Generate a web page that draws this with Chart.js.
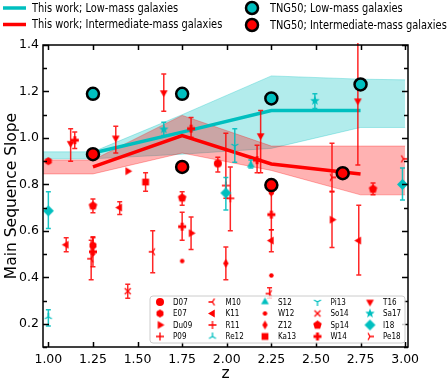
<!DOCTYPE html>
<html>
<head>
<meta charset="utf-8">
<script src="https://cdn.jsdelivr.net/npm/chart.js@4.4.1/dist/chart.umd.min.js"></script>
<style>
html, body { margin: 0; padding: 0; background: #fff; }
</style>
</head>
<body>
<canvas id="chart" width="447" height="382"></canvas>
<script>
// axis ticks
var xTicks = [1.0, 1.25, 1.5, 1.75, 2.0, 2.25, 2.5, 2.75, 3.0];
var yTicks = [0.2, 0.4, 0.6, 0.8, 1.0, 1.2, 1.4];
var yMinor = [0.1, 0.3, 0.5, 0.7, 0.9, 1.1, 1.3];

// this work: median slope per redshift bin
var binZ = [1.25, 1.75, 2.25, 2.75];
var lowMassSlope = [0.935, 1.025, 1.118, 1.118];
var intMassSlope = [0.875, 1.01, 0.888, 0.845];

// this work: shaded ranges
var bandZ = [0.95, 1.25, 1.75, 2.25, 2.75, 3.0];
var lowLo = [0.91, 0.91, 0.93, 0.955, 1.045, 1.045];
var lowHi = [0.94, 0.94, 1.10, 1.267, 1.253, 1.25];
var intLo = [0.845, 0.845, 0.935, 0.86, 0.755, 0.755];
var intHi = [0.905, 0.905, 1.097, 0.965, 0.965, 0.965];

// TNG50
var tngLowZ = [1.25, 1.75, 2.25, 2.75];
var tngLow = [1.19, 1.19, 1.17, 1.23];
var tngIntZ = [1.25, 1.75, 2.25, 2.65];
var tngInt = [0.93, 0.875, 0.797, 0.848];

// literature: [z, slope, errLow, errHigh]
var E07 = [[1.0, 0.90, null, null], [1.25, 0.537, 0.50, 0.575]];
var D07 = [[1.95, 0.89, 0.853, 0.917]];
var Du09 = [[1.445, 0.857, null, null], [1.80, 0.59, 0.52, 0.66], [2.59, 0.648, 0.528, 0.767]];
var P09 = [[1.995, 0.795, 0.74, 1.02]];
var M10 = [[1.24, 0.48, 0.39, 0.56], [1.585, 0.51, 0.42, 0.60], [2.24, 0.33, 0.31, 0.355]];
var K11 = [[1.10, 0.54, 0.51, 0.57], [1.40, 0.70, 0.67, 0.725], [2.25, 0.558, 0.51, 0.605], [2.74, 0.558, 0.41, 0.71]];
var R11 = [[2.02, 0.74, 0.60, 0.875]];
var Re12 = [[1.0, 0.23, 0.19, 0.26]];
var S12 = [[2.135, 0.883, 0.87, 0.905]];
var W12 = [[1.75, 0.47, null, null], [2.25, 0.408, null, null]];
var Z12 = [[1.995, 0.46, 0.39, 0.53]];
var Ka13 = [[1.545, 0.81, 0.77, 0.85]];
var Pi13 = [[2.045, 0.965, 0.895, 1.04]];
var So14 = [[1.445, 0.34, 0.31, 0.37]];
var Sp14 = [[1.25, 0.708, 0.678, 0.737], [1.75, 0.742, 0.71, 0.768], [2.82, 0.78, 0.755, 0.806]];
var W14 = [[1.148, 0.99, 0.955, 1.025], [1.80, 1.04, 1.003, 1.088], [2.17, 0.904, 0.85, 0.968],
           [1.25, 0.51, 0.445, 0.57], [1.75, 0.618, 0.56, 0.68], [2.25, 0.67, 0.605, 0.76]];
var T16 = [[1.125, 0.977, 0.90, 1.04], [1.378, 1.0, 0.935, 1.05], [1.647, 1.195, 1.115, 1.275],
           [2.19, 1.01, 0.85, 1.118], [2.735, 1.16, 0.883, 1.5], [2.25, 0.765, null, null]];
var Sa17 = [[1.647, 1.037, 1.01, 1.067], [2.494, 1.16, 1.127, 1.19]];
var I18 = [[1.0, 0.686, 0.61, 0.768], [1.995, 0.763, 0.69, 0.83], [2.985, 0.80, 0.733, 0.87]];
var Pe18 = [[2.59, 0.83, 0.77, 0.977], [2.99, 0.91, null, null]];

var RED = '#ff0000';
var CYAN = '#00bfbf';

function marker(kind, color, sz) {
    var n = Math.ceil(sz + 4);
    var c = document.createElement('canvas');
    c.width = n; c.height = n;
    var g = c.getContext('2d');
    g.translate(n / 2, n / 2);
    g.fillStyle = color;
    g.strokeStyle = color;
    g.lineWidth = 1.3;
    var r = sz / 2;
    function poly(k, rr, rot) {
        g.beginPath();
        for (var i = 0; i < k; i++) {
            var a = rot + i * 2 * Math.PI / k;
            g.lineTo(rr * Math.sin(a), -rr * Math.cos(a));
        }
        g.closePath();
        g.fill();
    }
    function spokes(rot) {
        g.beginPath();
        for (var i = 0; i < 3; i++) {
            var a = rot + i * 2 * Math.PI / 3;
            g.moveTo(0, 0);
            g.lineTo(r * Math.sin(a), -r * Math.cos(a));
        }
        g.stroke();
    }
    if (kind == 'o') { g.beginPath(); g.arc(0, 0, r, 0, 2 * Math.PI); g.fill(); }
    else if (kind == 'h') poly(6, r, 0);
    else if (kind == 'p') poly(5, r, 0);
    else if (kind == '^') poly(3, r, 0);
    else if (kind == 'v') poly(3, r, Math.PI);
    else if (kind == '<') poly(3, r, -Math.PI / 2);
    else if (kind == '>') poly(3, r, Math.PI / 2);
    else if (kind == 'D') poly(4, r, 0);
    else if (kind == 's') g.fillRect(-r * 0.85, -r * 0.85, r * 1.7, r * 1.7);
    else if (kind == 'd') {
        g.beginPath(); g.moveTo(0, -r); g.lineTo(r * 0.6, 0); g.lineTo(0, r); g.lineTo(-r * 0.6, 0);
        g.closePath(); g.fill();
    }
    else if (kind == '*') {
        g.beginPath();
        for (var i = 0; i < 10; i++) {
            var a = i * Math.PI / 5, rr = i % 2 ? r * 0.42 : r;
            g.lineTo(rr * Math.sin(a), -rr * Math.cos(a));
        }
        g.closePath(); g.fill();
    }
    else if (kind == 'P') {
        var w = r * 0.36;
        g.fillRect(-r, -w, 2 * r, 2 * w);
        g.fillRect(-w, -r, 2 * w, 2 * r);
    }
    else if (kind == '+') {
        g.beginPath(); g.moveTo(-r, 0); g.lineTo(r, 0); g.moveTo(0, -r); g.lineTo(0, r); g.stroke();
    }
    else if (kind == 'x') {
        var q = r * 0.75;
        g.beginPath(); g.moveTo(-q, -q); g.lineTo(q, q); g.moveTo(-q, q); g.lineTo(q, -q); g.stroke();
    }
    else if (kind == '1') spokes(Math.PI);
    else if (kind == '2') spokes(0);
    else if (kind == '3') spokes(-Math.PI / 2);
    else if (kind == '4') spokes(Math.PI / 2);
    else if (kind == '.') { g.beginPath(); g.arc(0, 0, r, 0, 2 * Math.PI); g.fill(); }
    return c;
}

// legend order of the literature sets (matplotlib column order)
var litSets = [
    ['D07', D07, 'o', RED, 8], ['E07', E07, 'h', RED, 8], ['Du09', Du09, '>', RED, 9], ['P09', P09, '+', RED, 8],
    ['M10', M10, '3', RED, 8], ['K11', K11, '<', RED, 9], ['R11', R11, '+', RED, 8], ['Re12', Re12, '2', CYAN, 8],
    ['S12', S12, '^', CYAN, 9], ['W12', W12, '.', RED, 4.5], ['Z12', Z12, 'd', RED, 9], ['Ka13', Ka13, 's', RED, 8],
    ['Pi13', Pi13, '1', CYAN, 8], ['So14', So14, 'x', RED, 8], ['Sp14', Sp14, 'p', RED, 9], ['W14', W14, 'P', RED, 8],
    ['T16', T16, 'v', RED, 9], ['Sa17', Sa17, '*', CYAN, 10], ['I18', I18, 'D', CYAN, 11], ['Pe18', Pe18, '4', RED, 8]
];

function pts(xs, ys) {
    return xs.map(function (x, i) { return {x: x, y: ys[i]}; });
}

var datasets = [
    {label: 'lowLo', data: pts(bandZ, lowLo), borderColor: 'rgba(0,191,191,0.3)', borderWidth: 1,
        pointRadius: 0, showLine: true, fill: false, order: 100},
    {label: 'lowHi', data: pts(bandZ, lowHi), borderColor: 'rgba(0,191,191,0.3)', borderWidth: 1,
        backgroundColor: 'rgba(0,191,191,0.3)', pointRadius: 0, showLine: true, fill: '-1', order: 99},
    {label: 'intLo', data: pts(bandZ, intLo), borderColor: 'rgba(255,0,0,0.3)', borderWidth: 1,
        pointRadius: 0, showLine: true, fill: false, order: 98},
    {label: 'intHi', data: pts(bandZ, intHi), borderColor: 'rgba(255,0,0,0.3)', borderWidth: 1,
        backgroundColor: 'rgba(255,0,0,0.3)', pointRadius: 0, showLine: true, fill: '-1', order: 97},
    {label: 'This work; Low-mass galaxies', data: pts(binZ, lowMassSlope), borderColor: CYAN, borderWidth: 3.5,
        pointRadius: 0, showLine: true, fill: false, order: 51},
    {label: 'This work; Intermediate-mass galaxies', data: pts(binZ, intMassSlope), borderColor: RED, borderWidth: 3.5,
        pointRadius: 0, showLine: true, fill: false, order: 50}
];

litSets.forEach(function (s, k) {
    var img = marker(s[2], s[3], s[4]);
    s.push(img);
    datasets.push({
        label: s[0],
        data: s[1].map(function (r) { return {x: r[0], y: r[1]}; }),
        err: s[1].map(function (r) { return [r[2], r[3]]; }),
        errColor: s[3] == RED ? 'rgba(255,0,0,0.85)' : 'rgba(0,191,191,0.9)',
        pointStyle: img, pointRadius: 5, showLine: false, order: 40 - k
    });
});

datasets.push({label: 'TNG50; Low-mass galaxies', data: pts(tngLowZ, tngLow), pointStyle: 'circle',
    pointRadius: 6, pointBorderWidth: 2.5, pointBorderColor: '#000', pointBackgroundColor: CYAN,
    showLine: false, order: 2});
datasets.push({label: 'TNG50; Intermediate-mass galaxies', data: pts(tngIntZ, tngInt), pointStyle: 'circle',
    pointRadius: 6, pointBorderWidth: 2.5, pointBorderColor: '#000', pointBackgroundColor: RED,
    showLine: false, order: 1});

var errPlugin = {
    id: 'errbars',
    beforeDatasetDraw: function (chart, args) {
        var ds = chart.data.datasets[args.index];
        if (!ds.err) return;
        var ctx = chart.ctx, xs = chart.scales.x, ys = chart.scales.y, a = chart.chartArea;
        ctx.save();
        ctx.beginPath();
        ctx.rect(a.left, a.top - 2, a.right - a.left, a.bottom - a.top + 2);
        ctx.clip();
        ctx.strokeStyle = ds.errColor;
        ctx.lineWidth = 1.5;
        ds.err.forEach(function (e, i) {
            if (e[0] == null) return;
            var px = xs.getPixelForValue(ds.data[i].x);
            var lo = ys.getPixelForValue(e[0]), hi = ys.getPixelForValue(e[1]);
            ctx.beginPath();
            ctx.moveTo(px, lo); ctx.lineTo(px, hi);
            ctx.moveTo(px - 2.5, lo); ctx.lineTo(px + 2.5, lo);
            ctx.moveTo(px - 2.5, hi); ctx.lineTo(px + 2.5, hi);
            ctx.stroke();
        });
        ctx.restore();
    }
};

function squeezedText(ctx, txt, x, y, size, sx) {
    ctx.save();
    ctx.translate(x, y);
    ctx.scale(sx, 1);
    ctx.font = size + 'px "DejaVu Sans"';
    ctx.fillStyle = '#000';
    ctx.textBaseline = 'middle';
    ctx.textAlign = 'left';
    ctx.fillText(txt, 0, 0);
    ctx.restore();
}

var framePlugin = {
    id: 'frame',
    afterDatasetsDraw: function (chart) {
        var ctx = chart.ctx, a = chart.chartArea, xs = chart.scales.x, ys = chart.scales.y;
        ctx.save();
        ctx.strokeStyle = '#000';
        ctx.lineWidth = 1.5;
        ctx.strokeRect(a.left, a.top, a.right - a.left, a.bottom - a.top);
        ctx.beginPath();
        xTicks.forEach(function (v) {
            var p = Math.round(xs.getPixelForValue(v)) + 0.5;
            ctx.moveTo(p, a.bottom); ctx.lineTo(p, a.bottom - 5);
            ctx.moveTo(p, a.top); ctx.lineTo(p, a.top + 5);
        });
        yTicks.forEach(function (v) {
            var p = Math.round(ys.getPixelForValue(v)) + 0.5;
            ctx.moveTo(a.left, p); ctx.lineTo(a.left + 6, p);
            ctx.moveTo(a.right, p); ctx.lineTo(a.right - 6, p);
        });
        yMinor.forEach(function (v) {
            var p = Math.round(ys.getPixelForValue(v)) + 0.5;
            ctx.moveTo(a.left, p); ctx.lineTo(a.left + 4, p);
            ctx.moveTo(a.right, p); ctx.lineTo(a.right - 4, p);
        });
        ctx.stroke();
        ctx.restore();
    },
    afterDraw: function (chart) {
        var ctx = chart.ctx;
        var ds = chart.data.datasets;
        // top legend
        ctx.save();
        ctx.lineWidth = 3.5;
        ctx.strokeStyle = ds[4].borderColor;
        ctx.beginPath(); ctx.moveTo(3, 8); ctx.lineTo(26, 8); ctx.stroke();
        ctx.strokeStyle = ds[5].borderColor;
        ctx.beginPath(); ctx.moveTo(3, 24.5); ctx.lineTo(26, 24.5); ctx.stroke();
        squeezedText(ctx, ds[4].label, 32, 8.5, 12, 0.82);
        squeezedText(ctx, ds[5].label, 32, 25, 12, 0.82);
        var tl = ds[ds.length - 2], ti = ds[ds.length - 1];
        [[tl, 8], [ti, 25]].forEach(function (e) {
            ctx.beginPath();
            ctx.arc(252, e[1], 6, 0, 2 * Math.PI);
            ctx.fillStyle = e[0].pointBackgroundColor;
            ctx.fill();
            ctx.lineWidth = 2.5;
            ctx.strokeStyle = '#000';
            ctx.stroke();
            squeezedText(ctx, e[0].label, 270, e[1] + 0.5, 12, 0.82);
        });
        // inner legend box
        var bx = 150, by = 296, bw = 255, bh = 47;
        ctx.beginPath();
        ctx.roundRect(bx, by, bw, bh, 3);
        ctx.fillStyle = 'rgba(255,255,255,0.8)';
        ctx.fill();
        ctx.lineWidth = 1;
        ctx.strokeStyle = '#cccccc';
        ctx.stroke();
        litSets.forEach(function (s, k) {
            var col = Math.floor(k / 4), row = k % 4;
            var mx = 160 + col * 52.5, my = 302 + row * 11.5;
            var img = s[5];
            ctx.drawImage(img, mx - img.width / 2, my - img.height / 2);
            squeezedText(ctx, s[0], mx + 13, my + 0.5, 9, 0.8);
        });
        ctx.restore();
    }
};

new Chart(document.getElementById('chart'), {
    type: 'scatter',
    data: {datasets: datasets},
    options: {
        responsive: false,
        animation: false,
        events: [],
        layout: {padding: {left: 0, right: 39, top: 45, bottom: 0}},
        plugins: {legend: {display: false}, tooltip: {enabled: false}},
        scales: {
            x: {
                type: 'linear', min: 0.97, max: 3.016,
                afterBuildTicks: function (s) { s.ticks = xTicks.map(function (v) { return {value: v}; }); },
                afterFit: function (s) { s.height = 35; },
                grid: {display: false, drawTicks: false},
                border: {display: false},
                ticks: {padding: 5, color: '#000', font: {family: 'DejaVu Sans', size: 12.5},
                    maxRotation: 0, autoSkip: false,
                    callback: function (v) { return Number(v).toFixed(2); }},
                title: {display: true, text: 'z', color: '#000', padding: {top: 0, bottom: 0},
                    font: {family: 'DejaVu Sans', size: 15.5, lineHeight: 1}}
            },
            y: {
                type: 'linear', min: 0.1, max: 1.4,
                afterBuildTicks: function (s) { s.ticks = yTicks.map(function (v) { return {value: v}; }); },
                afterFit: function (s) { s.width = 43; },
                grid: {display: false, drawTicks: false},
                border: {display: false},
                ticks: {padding: 4, color: '#000', font: {family: 'DejaVu Sans', size: 12.5}, autoSkip: false,
                    callback: function (v) { return Number(v).toFixed(1); }},
                title: {display: true, text: 'Main Sequence Slope', color: '#000', padding: {top: 4, bottom: 0},
                    font: {family: 'DejaVu Sans', size: 15.5, lineHeight: 1}}
            }
        }
    },
    plugins: [errPlugin, framePlugin]
});
</script>
</body>
</html>
